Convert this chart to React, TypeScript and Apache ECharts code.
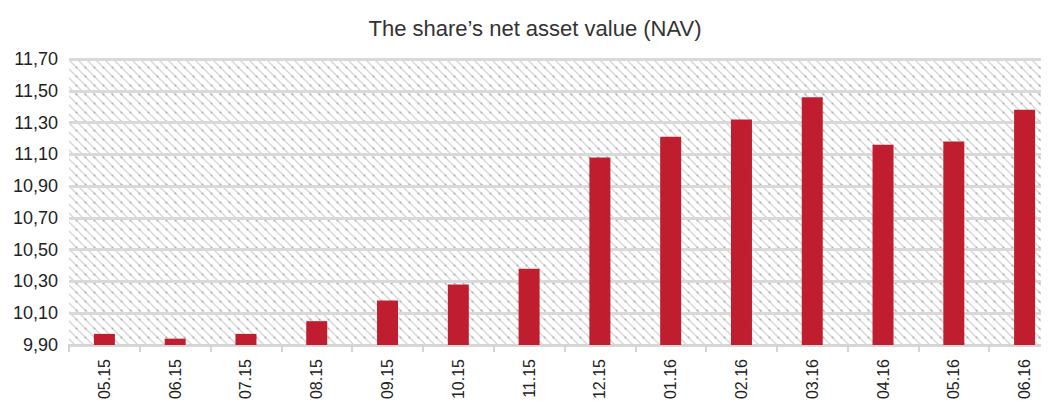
import React, { useEffect, useRef } from "react";
import * as echarts from "echarts";

const TITLE = "The share\u2019s net asset value (NAV)";
const CATEGORIES = ["05.15", "06.15", "07.15", "08.15", "09.15", "10.15", "11.15", "12.15", "01.16", "02.16", "03.16", "04.16", "05.16", "06.16"];
const NAV = [9.97, 9.94, 9.97, 10.05, 10.18, 10.28, 10.38, 11.08, 11.21, 11.32, 11.46, 11.16, 11.18, 11.38];
const Y_MIN = 9.9;
const Y_MAX = 11.7;
const Y_STEP = 0.2;

const hatchSvg =
  "<svg xmlns='http://www.w3.org/2000/svg' width='9' height='9'>" +
  "<rect width='9' height='9' fill='#ffffff'/>" +
  "<path d='M-1,-1 L10,10 M-1,8 L1,10 M8,-1 L10,1' stroke='#d6d6d6' stroke-width='1.4'/>" +
  "<circle cx='4.5' cy='4.5' r='1' fill='#b0b0b0'/>" +
  "</svg>";
const hatchUrl = "data:image/svg+xml;charset=utf-8," + encodeURIComponent(hatchSvg);

export default function App() {
  const ref = useRef<HTMLDivElement>(null);
  useEffect(() => {
    if (!ref.current) return;
    const chart = echarts.init(ref.current, undefined, { renderer: "svg" });
    const font = "'Liberation Sans', Arial, Helvetica, sans-serif";
    chart.setOption({
      animation: false,
      backgroundColor: "#ffffff",
      title: {
        text: TITLE,
        left: 530,
        textAlign: "center",
        top: 12,
        textStyle: { fontFamily: font, fontSize: 22, fontWeight: "normal", color: "#333333" },
      },
      grid: {
        left: 69,
        right: -11,
        top: 59,
        bottom: 56,
        containLabel: false,
        outerBoundsMode: "none",
        show: true,
        borderWidth: 0,
        backgroundColor: { image: hatchUrl, repeat: "repeat", imageWidth: 9, imageHeight: 9 } as any,
      } as any,
      xAxis: {
        type: "category",
        data: CATEGORIES,
        boundaryGap: true,
        axisLine: { show: true, lineStyle: { color: "#d4d4d4", width: 2 } },
        axisTick: { show: true, length: 7, lineStyle: { color: "#d4d4d4", width: 2 } },
        axisLabel: {
          rotate: 90,
          margin: 14,
          fontFamily: font,
          fontSize: 16,
          color: "#222222",
        },
        splitLine: { show: false },
      },
      yAxis: {
        type: "value",
        min: 0,
        max: +(Y_MAX - Y_MIN).toFixed(4),
        interval: Y_STEP,
        axisLine: { show: false },
        axisTick: { show: false },
        axisLabel: {
          margin: 11,
          fontFamily: font,
          fontSize: 18,
          color: "#222222",
          formatter: (v: number) => (v + Y_MIN).toFixed(2).replace(".", ","),
        },
        splitLine: { show: true, lineStyle: { color: "#d9d9d9", width: 3 } },
      },
      series: [
        {
          type: "bar",
          data: NAV.map((v) => +(v - Y_MIN).toFixed(4)),
          barWidth: 21,
          itemStyle: { color: "#c01d2e" },
        },
      ],
    });
    return () => chart.dispose();
  }, []);
  return <div ref={ref} style={{ width: 1049, height: 401, marginLeft: -8, marginTop: -8 }} />;
}
